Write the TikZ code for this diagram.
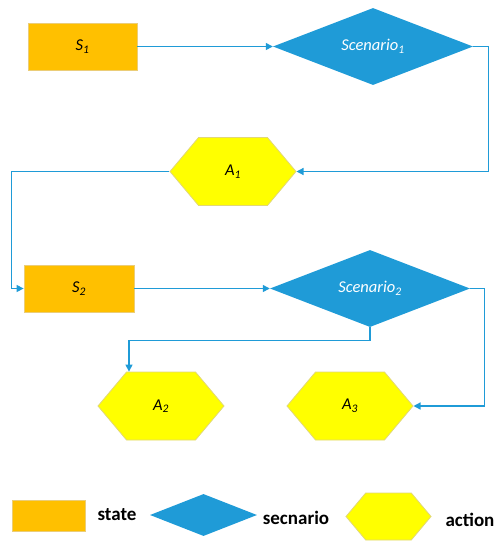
\documentclass[tikz,border=0pt]{standalone}
\usepackage{fontspec}
\setmainfont{Carlito}
\usepackage{tikz}
\usetikzlibrary{arrows.meta, positioning, shapes.geometric, shapes.symbols}
\definecolor{statec}{RGB}{255,192,0}
\definecolor{statebd}{RGB}{235,205,120}
\definecolor{scenc}{RGB}{31,155,215}
\definecolor{actc}{RGB}{255,255,0}
\definecolor{actbd}{RGB}{225,215,120}
\newcommand{\idx}[2]{\textit{#1\textsubscript{#2}}}

\begin{document}
\begin{tikzpicture}[x=1pt, y=-1pt,
    every node/.style={font=\fontsize{16.5}{19}\selectfont, inner sep=0pt},
    statebox/.style={rectangle, fill=statec, draw=statebd, line width=0.8pt},
    scenbox/.style={diamond, fill=scenc, text=white, aspect=2.6},
    actbox/.style={signal, signal to=east and west, signal pointer angle=100,
      fill=actc, draw=actbd, line width=0.8pt},
    legtext/.style={font=\fontsize{19}{22}\selectfont\bfseries},
    link/.style={scenc, line width=1.3pt, -{Triangle[length=7pt, width=7pt]}}]
  \useasboundingbox (0,0) rectangle (503,550);
  % flow nodes
  \node[statebox, minimum width=109pt, minimum height=47pt] (s1) at (82.5,46.5) {\idx{S}{1}};
  \node[scenbox, minimum width=200pt, minimum height=77pt] (sc1) at (373,46.5) {\idx{Scenario}{1}};
  \node[actbox, minimum width=126pt, minimum height=68pt] (a1) at (233,171.5) {\idx{A}{1}};
  \node[statebox, minimum width=110pt, minimum height=47pt] (s2) at (79,288.5) {\idx{S}{2}};
  \node[scenbox, minimum width=200pt, minimum height=77pt] (sc2) at (370,288.5) {\idx{Scenario}{2}};
  \node[actbox, minimum width=126pt, minimum height=68pt] (a2) at (161,406) {\idx{A}{2}};
  \node[actbox, minimum width=126pt, minimum height=68pt] (a3) at (350,406) {\idx{A}{3}};
  % connectors
  \draw[link] (s1.east) -- (sc1.west);
  \draw[link] (sc1.east) -- ++(15,0) |- (a1.east);
  \draw[link] (a1.west) -- ++(-158,0) |- (s2.west);
  \draw[link] (s2.east) -- (sc2.west);
  \draw[link] (sc2.south) -- ++(0,13) -| ([xshift=-32pt]a2.north);
  \draw[link] (sc2.east) -- ++(14,0) |- (a3.east);
  % legend
  \node[statebox, minimum width=73pt, minimum height=31pt] (lgs) at (48.5,515.5) {};
  \node[legtext] (lgst) at (117,515) {state};
  \node[scenbox, minimum width=107pt, minimum height=42pt] (lgc) at (203.5,515) {};
  \node[legtext] (lgct) at (296,518) {secnario};
  \node[actbox, minimum width=85pt, minimum height=47pt] (lga) at (388.5,516.5) {};
  \node[legtext] (lgat) at (470,520) {action};
\end{tikzpicture}
\end{document}
